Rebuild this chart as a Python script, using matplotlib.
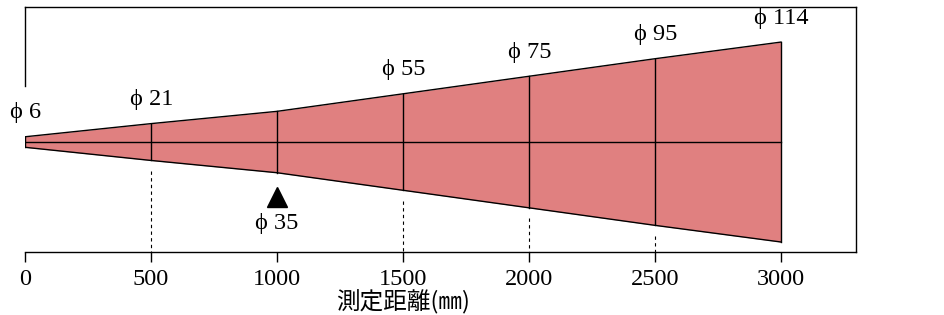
import matplotlib
matplotlib.use("Agg")
import matplotlib.pyplot as plt

# Data
distances = [0, 500, 1000, 1500, 2000, 2500, 3000]
diameters = [6, 21, 35, 55, 75, 95, 114]
labels = ["ϕ 6", "ϕ 21", "ϕ 35", "ϕ 55", "ϕ 75", "ϕ 95", "ϕ 114"]
tick_values = [0, 500, 1000, 1500, 2000, 2500, 3000]
tick_labels = ["0", "500", "1000", "1500", "2000", "2500", "3000"]
marked_distance = 1000
dashed_distances = [500, 1500, 2000, 2500]
xlabel_text = "測定距離(㎜)"

serif = ["Liberation Serif", "DejaVu Serif"]
cjk = ["Noto Sans CJK JP", "DejaVu Sans"]

fig = plt.figure(figsize=(9.45, 3.15), dpi=100)
ax = fig.add_axes([25 / 945, 63 / 315, (856 - 25) / 945, (252 - 7) / 315])
ax.set_xlim(0, 3298)
ax.set_ylim(-62.7, 77.0)

fill_color = "#E08080"
upper = [d / 2 for d in diameters]
lower = [-d / 2 for d in diameters]
ax.fill_between(distances, lower, upper, color=fill_color, lw=0, zorder=1)
ax.plot(distances, upper, color="black", lw=1.0, zorder=2)
ax.plot(distances, lower, color="black", lw=1.0, zorder=2)
ax.plot([distances[0], distances[-1]], [0, 0], color="black", lw=1.0, zorder=2)
for x, d in zip(distances, diameters):
    ax.plot([x, x], [-d / 2, d / 2], color="black", lw=1.0, zorder=2)

ymin = ax.get_ylim()[0]
for x in dashed_distances:
    d = diameters[distances.index(x)]
    ax.plot([x, x], [-d / 2 - 6, ymin], color="black", lw=0.8,
            linestyle=(0, (3, 3)), zorder=2)

# labels
for x, d, lab in zip(distances, diameters, labels):
    if x == marked_distance:
        ax.plot([x], [-31.5], marker="^", color="black", markersize=14,
                zorder=3, clip_on=False)
        ax.text(x, -46.7, lab, ha="center", va="center", fontsize=17.5,
                family=serif)
    else:
        ax.text(x + 3, d / 2 + 13.7, lab, ha="center", va="center",
                fontsize=17.5, family=serif, clip_on=False)

# spines
for s in ["top", "right", "bottom"]:
    ax.spines[s].set_linewidth(1.0)
ax.spines["left"].set_bounds(32, 77)
ax.spines["left"].set_linewidth(1.0)
ax.set_yticks([])
ax.set_xticks(tick_values)
ax.set_xticklabels(tick_labels, family=serif, fontsize=17.5)
ax.tick_params(axis="x", direction="out", length=7, width=1.0, pad=5)

ax.text(1500, -62.7 - (309 - 252) / 1.754, xlabel_text, ha="center",
        va="baseline", fontsize=17, family=cjk)

fig.savefig("out.png", dpi=100)
